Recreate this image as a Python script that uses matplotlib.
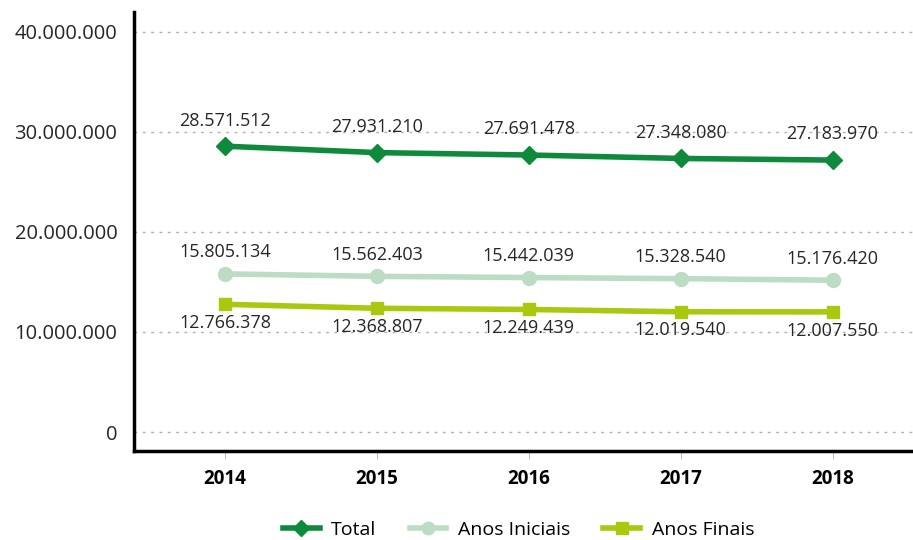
import matplotlib.pyplot as plt

plt.rcParams['font.family'] = ['Open Sans', 'DejaVu Sans']

anos = ['2014', '2015', '2016', '2017', '2018']
total = [28571512, 27931210, 27691478, 27348080, 27183970]
iniciais = [15805134, 15562403, 15442039, 15328540, 15176420]
finais = [12766378, 12368807, 12249439, 12019540, 12007550]
yticks = [0, 10000000, 20000000, 30000000, 40000000]
ytick_labels = ['0', '10.000.000', '20.000.000', '30.000.000', '40.000.000']


def fmt(v):
    return f"{v:,}".replace(',', '.')


fig = plt.figure(figsize=(9.13, 5.4), dpi=100)
ax = fig.add_axes([0.1468, 0.1648, 0.8532, 0.8132])

x = list(range(len(anos)))

#  series
ax.plot(x, total, color='#0e8a3c', lw=4, marker='D', ms=9, label='Total', zorder=3)
ax.plot(x, iniciais, color='#bcdcc4', lw=4, marker='o', ms=10, label='Anos Iniciais', zorder=3)
ax.plot(x, finais, color='#a9c80e', lw=4, marker='s', ms=9, label='Anos Finais', zorder=3)

#  data labels
for i in x:
    ax.annotate(fmt(total[i]), (i, total[i]), xytext=(0, 12), textcoords='offset points',
                ha='center', va='bottom', fontsize=13, color='#262626')
    ax.annotate(fmt(iniciais[i]), (i, iniciais[i]), xytext=(0, 9), textcoords='offset points',
                ha='center', va='bottom', fontsize=13, color='#262626')
    ax.annotate(fmt(finais[i]), (i, finais[i]), xytext=(0, -7), textcoords='offset points',
                ha='center', va='top', fontsize=13, color='#262626')

ax.set_xlim(-0.6, 4.53)
ax.set_ylim(-1900000, 42000000)
ax.set_xticks(x)
ax.set_xticklabels(anos, fontsize=13.5, fontweight='bold')
ax.set_yticks(yticks)
ax.set_yticklabels(ytick_labels, fontsize=14.5, color='#262626')

ax.grid(axis='y', color='#b0b0b0', ls=(0, (2, 4)), lw=1)
ax.set_axisbelow(True)

for s in ['top', 'right']:
    ax.spines[s].set_visible(False)
ax.spines['left'].set_linewidth(2.5)
ax.spines['bottom'].set_linewidth(2.5)
ax.tick_params(axis='y', length=0, pad=12)
ax.tick_params(axis='x', length=6, color='#c0c0c0', pad=7)

fig.legend(loc='lower center', bbox_to_anchor=(0.568, -0.03), ncol=3, frameon=False,
           fontsize=14, handlelength=1.9, handletextpad=0.6, columnspacing=1.7,
           markerscale=0.9)

plt.savefig('out.png', dpi=100)
